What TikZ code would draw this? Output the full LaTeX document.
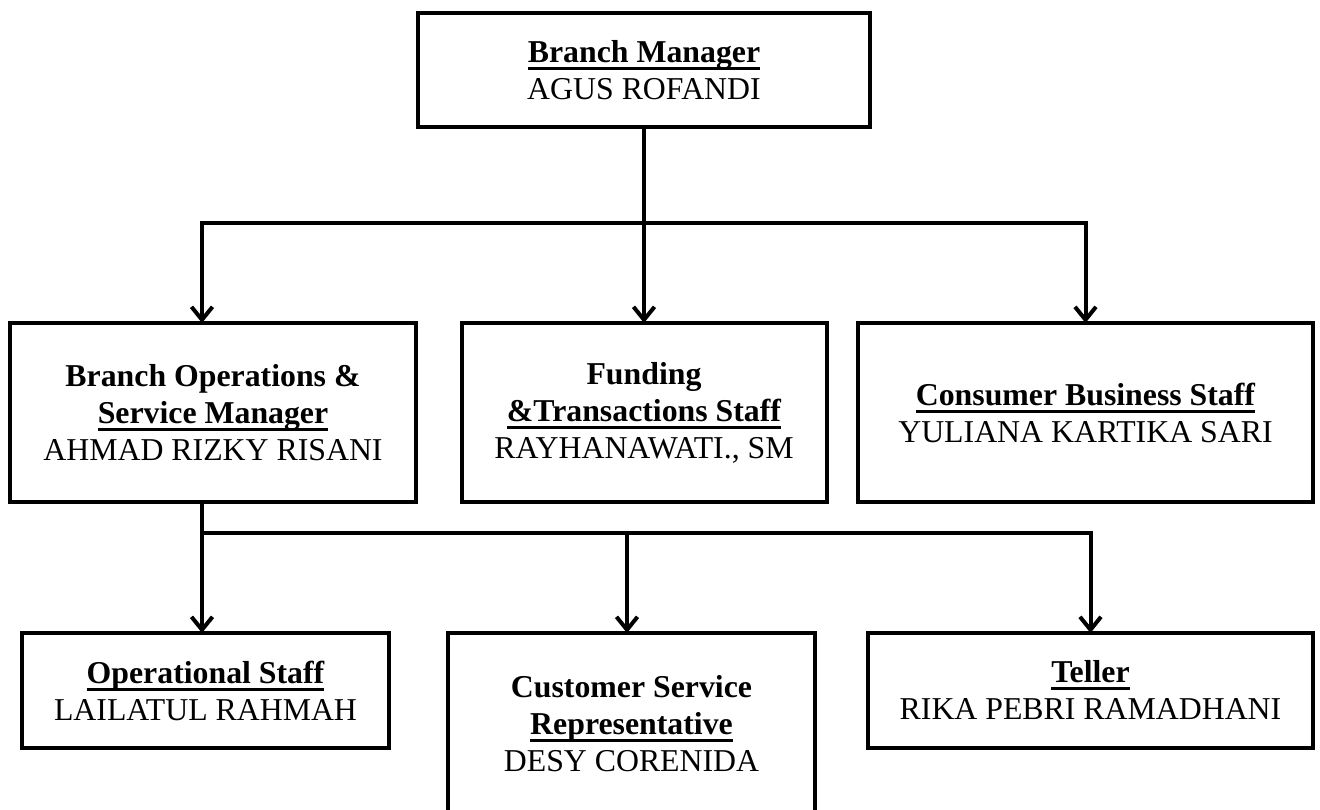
\documentclass[tikz,border=0pt]{standalone}
\usepackage{fontspec}
\setmainfont{Liberation Serif}
\usetikzlibrary{arrows.meta}
\newcommand\myul[1]{\setbox0=\hbox{#1}\rlap{\rule[-7.5pt]{\wd0}{3pt}}\box0}
\begin{document}
\begin{tikzpicture}[x=1pt,y=-1pt,
  box/.style={draw=black,line width=4pt,inner sep=0pt,outer sep=0pt,align=center,
    font=\fontsize{31.8}{37}\selectfont},
  conn/.style={line width=4pt},
  arr/.style={conn,-{Straight Barb[length=13pt,width=21pt,line width=4pt]}}]
\clip (0,0) rectangle (1320,809);
\fill[white] (0,0) rectangle (1320,809);
\node[box,minimum width=452pt,minimum height=114pt] (bm) at (644,70)
  {\textbf{\myul{Branch Manager}}\\AGUS ROFANDI};
\node[box,minimum width=406pt,minimum height=179pt] (bos) at (213,412.5)
  {\textbf{Branch Operations \&}\\\textbf{\myul{Service Manager}}\\AHMAD RIZKY RISANI};
\node[box,minimum width=365pt,minimum height=179pt] (fts) at (644,412.5)
  {\textbf{Funding}\\\textbf{\myul{\&Transactions Staff}}\\RAYHANAWATI., SM};
\node[box,minimum width=455pt,minimum height=179pt] (cbs) at (1085.5,412.5)
  {\textbf{\myul{Consumer Business Staff}}\\YULIANA KARTIKA SARI};
\node[box,minimum width=367pt,minimum height=115pt] (ops) at (205.5,690.5)
  {\textbf{\myul{Operational Staff}}\\LAILATUL RAHMAH};
\node[box,minimum width=367pt,minimum height=182pt] (csr) at (631.5,724)
  {\textbf{Customer Service}\\\textbf{\myul{Representative}}\\DESY CORENIDA};
\node[box,minimum width=445pt,minimum height=115pt] (tel) at (1090.5,690.5)
  {\textbf{\myul{Teller}}\\RIKA PEBRI RAMADHANI};
% level 1 connectors
\coordinate (j1) at (644,223);
\draw[arr] (bm.south) -- (fts.north);
\draw[arr] (j1) -| ([xshift=-11pt]bos.north);
\draw[arr] (j1) -| (cbs.north);
% level 2 connectors
\coordinate (b0) at ([xshift=-11pt]bos.south);
\coordinate (j2) at (202,533);
\draw[arr] (b0) -- (b0 |- ops.north);
\draw[arr] (j2) -| ([xshift=-4.5pt]csr.north);
\draw[arr] (j2) -| (tel.north);
\end{tikzpicture}
\end{document}
